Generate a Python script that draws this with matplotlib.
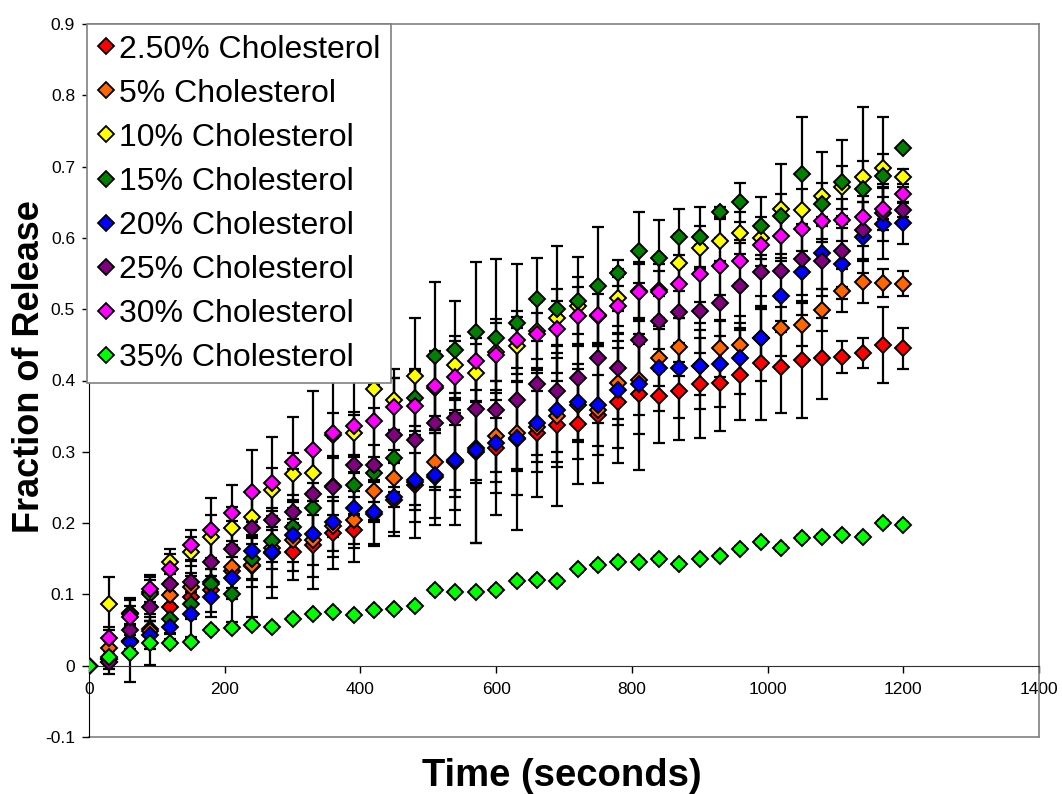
import matplotlib
matplotlib.use("Agg")
import matplotlib.pyplot as plt
from matplotlib.lines import Line2D

plt.rcParams['font.family'] = ['Liberation Sans', 'DejaVu Sans']

times = list(range(0, 1201, 30))

labels = ["2.50% Cholesterol", "5% Cholesterol", "10% Cholesterol", "15% Cholesterol",
          "20% Cholesterol", "25% Cholesterol", "30% Cholesterol", "35% Cholesterol"]
colors = ["#FF0000", "#FF6600", "#FFFF00", "#008000", "#0000FF", "#800080", "#FF00FF", "#00FF00"]

chol_2_5 = [0, 0.010, 0.035, 0.052, 0.083, 0.096, 0.106, 0.133, 0.140, 0.158, 0.160, 0.169, 0.186, 0.191,
            0.213, 0.233, 0.254, 0.264, 0.285, 0.300, 0.306, 0.318, 0.327, 0.337, 0.339, 0.352, 0.370,
            0.381, 0.378, 0.385, 0.395, 0.396, 0.408, 0.424, 0.419, 0.429, 0.431, 0.433, 0.438, 0.450, 0.445]
chol_5 = [0, 0.025, 0.034, 0.048, 0.099, 0.110, 0.118, 0.139, 0.141, 0.165, 0.176, 0.176, 0.196, 0.205,
          0.245, 0.263, 0.258, 0.286, 0.287, 0.306, 0.322, 0.326, 0.335, 0.350, 0.366, 0.358, 0.396,
          0.401, 0.432, 0.447, 0.420, 0.445, 0.450, 0.460, 0.474, 0.478, 0.499, 0.526, 0.538, 0.537, 0.536]
chol_10 = [0, 0.087, 0.074, 0.104, 0.146, 0.160, 0.181, 0.193, 0.209, 0.247, 0.269, 0.270, 0.324, 0.326,
           0.388, 0.373, 0.406, 0.390, 0.422, 0.411, 0.440, 0.449, 0.470, 0.488, 0.505, 0.490, 0.516,
           0.526, 0.527, 0.565, 0.586, 0.596, 0.607, 0.600, 0.641, 0.639, 0.659, 0.671, 0.686, 0.698, 0.686]
chol_15 = [0, 0.005, 0.072, 0.100, 0.066, 0.087, 0.115, 0.101, 0.150, 0.175, 0.195, 0.221, 0.252, 0.253,
           0.270, 0.291, 0.376, 0.435, 0.443, 0.468, 0.459, 0.481, 0.514, 0.500, 0.511, 0.532, 0.551,
           0.582, 0.572, 0.601, 0.601, 0.636, 0.650, 0.617, 0.631, 0.689, 0.647, 0.679, 0.668, 0.687, 0.726]
chol_20 = [0, 0.010, 0.033, 0.043, 0.054, 0.072, 0.097, 0.123, 0.161, 0.160, 0.183, 0.185, 0.202, 0.221,
           0.215, 0.237, 0.261, 0.267, 0.288, 0.302, 0.312, 0.319, 0.341, 0.359, 0.370, 0.365, 0.386,
           0.395, 0.417, 0.417, 0.420, 0.423, 0.431, 0.459, 0.518, 0.552, 0.579, 0.564, 0.601, 0.620, 0.621]
chol_25 = [0, 0.005, 0.050, 0.082, 0.114, 0.118, 0.145, 0.163, 0.193, 0.205, 0.216, 0.241, 0.250, 0.282,
           0.282, 0.324, 0.316, 0.341, 0.347, 0.360, 0.358, 0.373, 0.395, 0.385, 0.404, 0.431, 0.417,
           0.457, 0.484, 0.496, 0.498, 0.508, 0.533, 0.552, 0.553, 0.570, 0.568, 0.581, 0.611, 0.635, 0.639]
chol_30 = [0, 0.039, 0.069, 0.108, 0.136, 0.169, 0.190, 0.214, 0.243, 0.256, 0.285, 0.303, 0.327, 0.336,
           0.343, 0.363, 0.364, 0.392, 0.405, 0.427, 0.436, 0.457, 0.465, 0.472, 0.491, 0.492, 0.505,
           0.524, 0.524, 0.536, 0.550, 0.560, 0.567, 0.590, 0.602, 0.612, 0.624, 0.625, 0.629, 0.641, 0.661]
chol_35 = [0, 0.012, 0.018, 0.032, 0.032, 0.033, 0.050, 0.053, 0.057, 0.054, 0.066, 0.072, 0.076, 0.071,
           0.078, 0.079, 0.084, 0.106, 0.104, 0.103, 0.106, 0.119, 0.120, 0.119, 0.135, 0.141, 0.146,
           0.146, 0.150, 0.143, 0.149, 0.154, 0.164, 0.173, 0.165, 0.179, 0.181, 0.183, 0.181, 0.200, 0.198]

err_2_5 = [0, 0.010, 0.020, 0.020, 0.020, 0.030, 0.030, 0.030, 0.072, 0.063, 0.040, 0.062, 0.051, 0.045,
           0.045, 0.051, 0.075, 0.067, 0.087, 0.128, 0.094, 0.128, 0.091, 0.113, 0.084, 0.096, 0.086,
           0.106, 0.066, 0.068, 0.076, 0.067, 0.063, 0.080, 0.065, 0.082, 0.057, 0.023, 0.021, 0.053, 0.029]
err_5 = [0, 0.010, 0.015, 0.020, 0.020, 0.020, 0.025, 0.030, 0.030, 0.030, 0.030, 0.035, 0.035, 0.040,
         0.040, 0.040, 0.040, 0.040, 0.050, 0.050, 0.050, 0.050, 0.050, 0.050, 0.050, 0.050, 0.050,
         0.050, 0.040, 0.040, 0.040, 0.040, 0.040, 0.040, 0.040, 0.030, 0.030, 0.030, 0.030, 0.020, 0.017]
err_10 = [0, 0.037, 0.021, 0.020, 0.018, 0.020, 0.030, 0.030, 0.030, 0.030, 0.030, 0.030, 0.030, 0.030,
          0.104, 0.043, 0.082, 0.040, 0.040, 0.040, 0.040, 0.040, 0.040, 0.040, 0.040, 0.040, 0.040,
          0.040, 0.040, 0.040, 0.030, 0.030, 0.030, 0.030, 0.063, 0.030, 0.061, 0.030, 0.097, 0.072, 0.010]
err_15 = [0, 0.010, 0.020, 0.020, 0.020, 0.020, 0.020, 0.040, 0.030, 0.030, 0.035, 0.035, 0.040, 0.040,
          0.040, 0.040, 0.040, 0.103, 0.068, 0.098, 0.111, 0.083, 0.058, 0.089, 0.062, 0.083, 0.018,
          0.054, 0.053, 0.040, 0.042, 0.007, 0.027, 0.041, 0.030, 0.081, 0.030, 0.059, 0.040, 0.030, 0.000]
err_20 = [0, 0.010, 0.010, 0.020, 0.010, 0.032, 0.029, 0.030, 0.040, 0.050, 0.050, 0.060, 0.050, 0.050,
          0.045, 0.050, 0.060, 0.060, 0.070, 0.130, 0.070, 0.080, 0.070, 0.080, 0.080, 0.070, 0.080,
          0.070, 0.060, 0.070, 0.060, 0.060, 0.050, 0.060, 0.050, 0.060, 0.050, 0.050, 0.050, 0.050, 0.030]
err_25 = [0, 0.017, 0.020, 0.020, 0.030, 0.030, 0.040, 0.040, 0.050, 0.050, 0.060, 0.060, 0.070, 0.070,
          0.080, 0.080, 0.090, 0.090, 0.100, 0.100, 0.100, 0.100, 0.100, 0.100, 0.090, 0.090, 0.080,
          0.080, 0.070, 0.070, 0.060, 0.060, 0.060, 0.050, 0.050, 0.050, 0.050, 0.050, 0.040, 0.040, 0.010]
err_30 = [0, 0.015, 0.015, 0.019, 0.020, 0.022, 0.045, 0.039, 0.059, 0.065, 0.064, 0.082, 0.073, 0.066,
          0.050, 0.040, 0.050, 0.050, 0.050, 0.040, 0.050, 0.040, 0.050, 0.040, 0.040, 0.040, 0.040,
          0.040, 0.040, 0.040, 0.040, 0.040, 0.030, 0.030, 0.030, 0.030, 0.030, 0.030, 0.030, 0.030, 0.010]
err_35 = [0, 0.005, 0.041, 0.031, 0.005, 0.004, 0.004, 0.004, 0.004, 0.004, 0.004, 0.004, 0.004, 0.004,
          0.004, 0.004, 0.004, 0.004, 0.004, 0.004, 0.004, 0.004, 0.004, 0.004, 0.004, 0.004, 0.004,
          0.004, 0.004, 0.004, 0.004, 0.004, 0.004, 0.004, 0.004, 0.004, 0.004, 0.004, 0.004, 0.004, 0.004]

series = [chol_2_5, chol_5, chol_10, chol_15, chol_20, chol_25, chol_30, chol_35]
errors = [err_2_5, err_5, err_10, err_15, err_20, err_25, err_30, err_35]

fig = plt.figure(figsize=(10.62, 7.94), dpi=100)
ax = fig.add_axes([89 / 1062, 57 / 794, 950 / 1062, 713 / 794])

# error bars (behind all markers)
for vals, err in zip(series, errors):
    ax.errorbar(times, vals, yerr=err, fmt='none', ecolor='black', elinewidth=1.6,
                capsize=4.5, capthick=1.6, zorder=2)

# markers
for i, (vals, col) in enumerate(zip(series, colors)):
    ax.plot(times, vals, linestyle='none', marker='D', markersize=8.6,
            markerfacecolor=col, markeredgecolor='black', markeredgewidth=1.4, zorder=3 + i)

ax.set_xlim(0, 1400)
ax.set_ylim(-0.1, 0.9)

xticks = [0, 200, 400, 600, 800, 1000, 1200, 1400]
yticks = [-0.1, 0, 0.1, 0.2, 0.3, 0.4, 0.5, 0.6, 0.7, 0.8, 0.9]
ytick_labels = ["-0.1", "0", "0.1", "0.2", "0.3", "0.4", "0.5", "0.6", "0.7", "0.8", "0.9"]
ax.set_xticks(xticks)
ax.set_xticklabels([str(v) for v in xticks])
ax.set_yticks(yticks)
ax.set_yticklabels(ytick_labels)

ax.spines['bottom'].set_position(('data', 0))
ax.spines['bottom'].set_color('#303030')
ax.spines['left'].set_color('black')
for s in ['top', 'right']:
    ax.spines[s].set_color('#808080')
    ax.spines[s].set_linewidth(1.2)
ax.plot([0, 1400], [-0.1, -0.1], color='#808080', lw=1.2, clip_on=False, zorder=1)

ax.tick_params(axis='x', direction='out', length=5, width=1, labelsize=12.5, pad=7)
ax.tick_params(axis='y', direction='out', length=5, width=1, labelsize=12.5, pad=5)

fig.text(30 / 1062, 1 - 367 / 794, 'Fraction of Release', rotation=90, ha='center', va='center',
         fontsize=26, fontweight='bold')
fig.text(562 / 1062, 1 - 776 / 794, 'Time (seconds)', ha='center', va='center',
         fontsize=27.5, fontweight='bold')

handles = [Line2D([0], [0], linestyle='none', marker='D', markersize=8.2, markerfacecolor=c,
                  markeredgecolor='black', markeredgewidth=1.3) for c in colors]
leg = ax.legend(handles, labels, loc='upper left', bbox_to_anchor=(-0.002, 1.0), fontsize=23,
                frameon=True, fancybox=False, edgecolor='#808080', framealpha=1,
                borderpad=0.33, labelspacing=0.44, handlelength=0.55, handletextpad=0.12,
                borderaxespad=0)
leg.get_frame().set_linewidth(1.2)
leg.set_zorder(20)

fig.savefig('out.png', dpi=100)
